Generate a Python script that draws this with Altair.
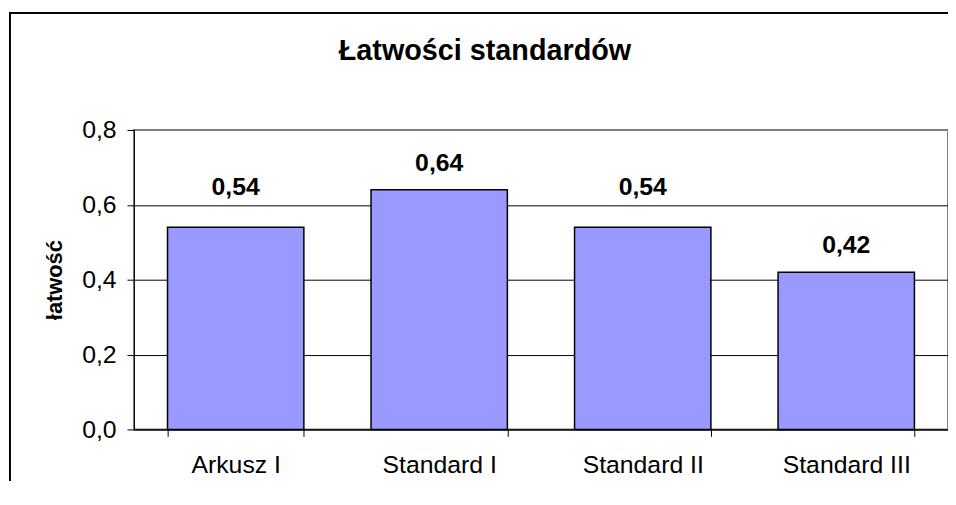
import altair as alt
import pandas as pd

categories = ["Arkusz I", "Standard I", "Standard II", "Standard III"]
values = [0.54, 0.64, 0.54, 0.42]
y_ticks = [0.0, 0.2, 0.4, 0.6, 0.8]
chart_title = "Łatwości standardów"
y_title = "łatwość"

FONT = "Liberation Sans"

df = pd.DataFrame({"label": categories, "value": values})

x_enc = alt.X(
    "label:N",
    sort=categories,
    scale=alt.Scale(paddingInner=0.33, paddingOuter=0.165),
    axis=alt.Axis(
        title=None,
        labelAngle=0,
        tickBand="extent",
        labelFont=FONT,
        labelFontSize=25,
        labelColor="black",
        labelPadding=16,
        tickSize=7,
        tickColor="black",
        domainColor="black",
        domainWidth=1,
        grid=False,
    ),
)

y_enc = alt.Y(
    "value:Q",
    scale=alt.Scale(domain=[0, 0.8], nice=False, zero=True),
    axis=alt.Axis(
        values=y_ticks,
        labelExpr="replace(format(datum.value, '.1f'), '.', ',')",
        labelFont=FONT,
        labelFontSize=25,
        labelColor="black",
        labelPadding=11,
        tickSize=7,
        tickColor="black",
        domainColor="black",
        gridColor=alt.condition("datum.value >= 0.8", alt.value("#808080"), alt.value("black")),
        gridWidth=1,
        grid=True,
        title=y_title,
        titleFont=FONT,
        titleFontSize=22,
        titleFontWeight="bold",
        titleColor="black",
        titleAngle=-90,
        titleBaseline="middle",
        titleAlign="center",
        titleX=-80,
        titleY=151,
    ),
)

base = alt.Chart(df)

bars = base.mark_bar(color="#9999FF", stroke="black", strokeWidth=1.5).encode(x=x_enc, y=y_enc)

label_text = "replace(format(datum.value, '.2f'), '.', ',')"

labels_a = base.transform_filter("datum.value == 0.54").transform_calculate(
    txt=label_text
).mark_text(font=FONT, fontSize=25, fontWeight="bold", color="black", dy=-33, baseline="alphabetic").encode(
    x=alt.X("label:N", sort=categories), y="value:Q", text="txt:N"
)
labels_b = base.transform_filter("datum.value != 0.54").transform_calculate(
    txt=label_text
).mark_text(font=FONT, fontSize=25, fontWeight="bold", color="black", dy=-19, baseline="alphabetic").encode(
    x=alt.X("label:N", sort=categories), y="value:Q", text="txt:N"
)

title_df = pd.DataFrame({"t": [chart_title]})
title_mark = alt.Chart(title_df).mark_text(
    font=FONT, fontSize=29, fontWeight="bold", color="black", align="center", baseline="alphabetic"
).encode(text="t:N", x=alt.value(354), y=alt.value(-71))

frame_df = pd.DataFrame({"k": [0]})
frame_left = alt.Chart(frame_df).mark_rule(color="black", strokeWidth=2).encode(
    x=alt.value(-125), y=alt.value(-118), y2=alt.value(400)
)
frame_top = alt.Chart(frame_df).mark_rule(color="black", strokeWidth=2).encode(
    x=alt.value(-126), x2=alt.value(840), y=alt.value(-118)
)

chart = alt.layer(frame_left, frame_top, title_mark, bars, labels_a, labels_b).properties(
    width=821,
    height=302,
    autosize=alt.AutoSizeParams(type="none"),
    padding={"left": 127, "top": 121, "right": 0, "bottom": 50},
    background="white",
).configure_view(stroke="#808080", strokeWidth=2)

chart.save("out.html", embed_options={"renderer": "svg", "actions": False})
